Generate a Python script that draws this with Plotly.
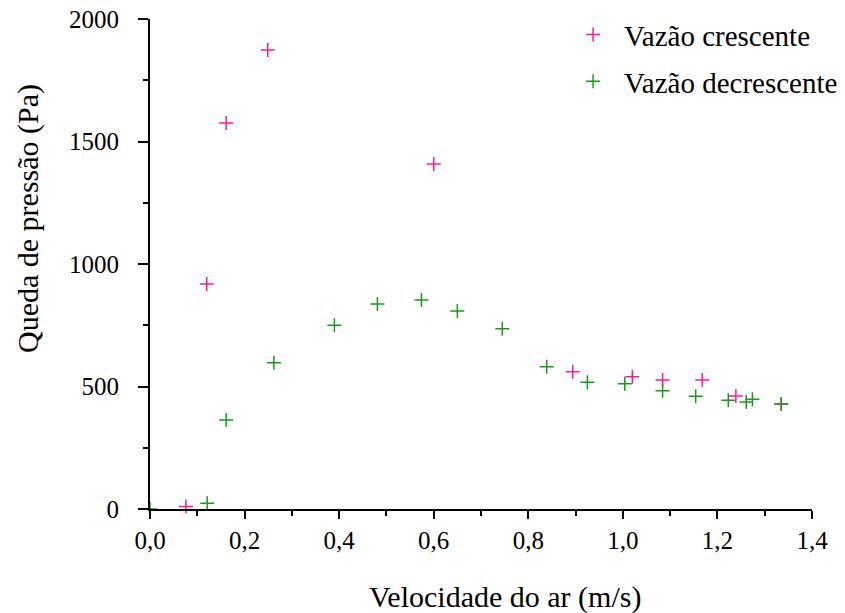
import plotly.graph_objects as go

# Pressure drop vs. air velocity, increasing and decreasing flow runs
vel_crescente = [0.076, 0.120, 0.161, 0.249, 0.600, 0.894, 1.020, 1.084, 1.168, 1.239, 1.335]
dp_crescente = [10, 918, 1576, 1873, 1408, 560, 540, 527, 527, 461, 429]

vel_decrescente = [0.0, 0.121, 0.161, 0.262, 0.390, 0.481, 0.574, 0.650, 0.745, 0.839,
                   0.925, 1.004, 1.084, 1.154, 1.223, 1.261, 1.274, 1.335]
dp_decrescente = [0, 23, 363, 597, 750, 837, 853, 808, 736, 581,
                  517, 511, 483, 460, 444, 437, 448, 429]

x_ticks = [0.0, 0.2, 0.4, 0.6, 0.8, 1.0, 1.2, 1.4]
y_ticks = [0, 500, 1000, 1500, 2000]

font_family = "Liberation Serif, Times New Roman, serif"

fig = go.Figure()
fig.add_trace(go.Scatter(
    x=vel_crescente, y=dp_crescente, mode="markers", name="Vazão crescente",
    legendgroup="a",
    marker=dict(symbol="cross-thin", size=10, line=dict(color="#ff1a8c", width=1.5)),
    cliponaxis=False,
))
fig.add_trace(go.Scatter(
    x=vel_decrescente, y=dp_decrescente, mode="markers", name="Vazão decrescente",
    legendgroup="b",
    marker=dict(symbol="cross-thin", size=10, line=dict(color="#1c961c", width=1.5)),
    cliponaxis=False,
))

axis_common = dict(
    showgrid=False, zeroline=False, showline=True, linecolor="black", linewidth=2,
    ticks="outside", tickcolor="black", tickwidth=2,
    tickfont=dict(family=font_family, size=25, color="black"),
)

fig.update_layout(
    width=845, height=613,
    margin=dict(l=150, r=33, t=19, b=104, autoexpand=False),
    paper_bgcolor="white", plot_bgcolor="white",
    separators=", ",
    font=dict(family=font_family, color="black"),
    showlegend=True,
    legend=dict(
        x=0.6225, y=1.02, xanchor="left", yanchor="top",
        font=dict(family=font_family, size=29, color="black"),
        bgcolor="rgba(0,0,0,0)", itemwidth=52, tracegroupgap=6,
    ),
    xaxis=dict(
        range=[0, 1.4], tickvals=x_ticks, tickformat=".1f", ticklen=8,
        minor=dict(dtick=0.1, ticks="outside", ticklen=5, tickwidth=2, tickcolor="black"),
        **axis_common,
    ),
    yaxis=dict(
        range=[0, 2000], tickvals=y_ticks, tickformat="d", ticklen=10,
        ticklabelstandoff=14,
        minor=dict(dtick=250, ticks="outside", ticklen=5, tickwidth=2, tickcolor="black"),
        **axis_common,
    ),
)

# Axis titles placed as paper-anchored annotations
fig.add_annotation(
    text="Velocidade do ar (m/s)", xref="paper", yref="paper",
    x=(505 - 150) / 662, y=-(597 - 509) / 490, xanchor="center", yanchor="middle",
    showarrow=False, font=dict(family=font_family, size=30, color="black"),
)
fig.add_annotation(
    text="Queda de pressão (Pa)", xref="paper", yref="paper",
    x=-(150 - 28) / 662, y=(509 - 219) / 490, xanchor="center", yanchor="middle",
    textangle=-90, showarrow=False, font=dict(family=font_family, size=30, color="black"),
)

fig.write_html("out.html")
